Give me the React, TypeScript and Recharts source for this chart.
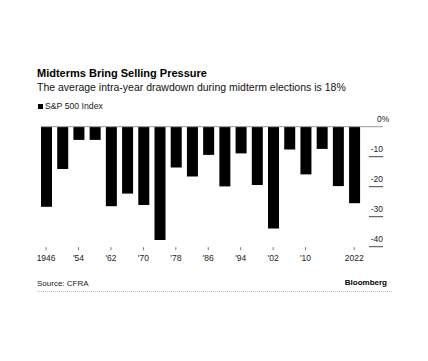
import { BarChart, Bar, XAxis, YAxis } from "recharts";

const years = [
  "1946", "1950", "1954", "1958", "1962", "1966", "1970", "1974", "1978", "1982",
  "1986", "1990", "1994", "1998", "2002", "2006", "2010", "2014", "2018", "2022",
];
const drawdowns = [
  -26.7, -14.1, -4.4, -4.4, -26.5, -22.3, -26.1, -37.8, -13.6, -16.6,
  -9.4, -19.9, -8.9, -19.4, -33.9, -7.6, -15.9, -7.4, -19.8, -25.5,
];
const tickLabels = [
  "1946", "", "'54", "", "'62", "", "'70", "", "'78", "",
  "'86", "", "'94", "", "'02", "", "'10", "", "", "2022",
];
const yTicks = [0, -10, -20, -30, -40];

const data = years.map((year, i) => ({ year, value: drawdowns[i] }));
const labelFor: Record<string, string> = {};
years.forEach((y, i) => (labelFor[y] = tickLabels[i]));

const font = '"Liberation Sans", Arial, Helvetica, sans-serif';

function XTick({ x, y, payload }: any) {
  const label = labelFor[payload.value];
  if (!label) return null;
  return (
    <g>
      <line x1={x} x2={x} y1={y + 0.5} y2={y + 3.5} stroke="#777" strokeWidth={1} />
      <text x={x} y={y + 14.5} textAnchor="middle" fontSize={8.5} fill="#222" fontFamily={font}>
        {label}
      </text>
    </g>
  );
}

function YTick({ x, y, payload }: any) {
  if (payload.value === 0) {
    return (
      <g>
        <line x1={41} x2={383} y1={y} y2={y} stroke="#999" strokeWidth={1} />
        <text x={377} y={y - 4.5} textAnchor="start" fontSize={8.5} fill="#222" fontFamily={font}>
          0%
        </text>
      </g>
    );
  }
  return (
    <g>
      <line x1={x + 6.7} x2={x + 20.7} y1={y} y2={y} stroke="#444" strokeWidth={1} />
      <text x={x + 20.7} y={y - 4.5} textAnchor="end" fontSize={8.5} fill="#222" fontFamily={font}>
        {payload.value}
      </text>
    </g>
  );
}

export default function App() {
  return (
    <div
      style={{
        position: "absolute",
        left: 0,
        top: 0,
        width: 428,
        height: 361,
        background: "#fff",
        fontFamily: font,
      }}
    >
      <div style={{ position: "absolute", left: 37, top: 67, fontSize: 11, fontWeight: 700, color: "#000", whiteSpace: "nowrap" }}>
        Midterms Bring Selling Pressure
      </div>
      <div style={{ position: "absolute", left: 37, top: 80.5, fontSize: 10.5, color: "#111", whiteSpace: "nowrap" }}>
        The average intra-year drawdown during midterm elections is 18%
      </div>
      <div style={{ position: "absolute", left: 38, top: 101, fontSize: 8.7, color: "#222", whiteSpace: "nowrap", display: "flex", alignItems: "center" }}>
        <span style={{ display: "inline-block", width: 5, height: 5, background: "#000", marginRight: 2 }} />
        S&amp;P 500 Index
      </div>

      <div style={{ position: "absolute", left: 0, top: 0 }}>
        <BarChart
          width={428}
          height={361}
          data={data}
          margin={{ top: 126.7, right: 45.7, bottom: 94.3, left: 38 }}
        >
          <XAxis
            dataKey="year"
            height={20}
            axisLine={false}
            tickLine={false}
            tickSize={0}
            tickMargin={0}
            interval={0}
            tick={<XTick />}
          />
          <YAxis
            orientation="right"
            width={20}
            domain={[-40, 0]}
            ticks={yTicks}
            axisLine={false}
            tickLine={false}
            tickSize={0}
            tickMargin={0}
            interval={0}
            tick={<YTick />}
          />
          <Bar dataKey="value" fill="#000" barSize={11} isAnimationActive={false} />
        </BarChart>
      </div>

      <div style={{ position: "absolute", left: 37, top: 279, fontSize: 8, color: "#222", whiteSpace: "nowrap" }}>
        Source: CFRA
      </div>
      <div style={{ position: "absolute", right: 41, top: 278, fontSize: 8, fontWeight: 700, color: "#000", whiteSpace: "nowrap" }}>
        Bloomberg
      </div>
      <div style={{ position: "absolute", left: 37, top: 291, width: 355, borderTop: "1px dotted #bbb" }} />
    </div>
  );
}
